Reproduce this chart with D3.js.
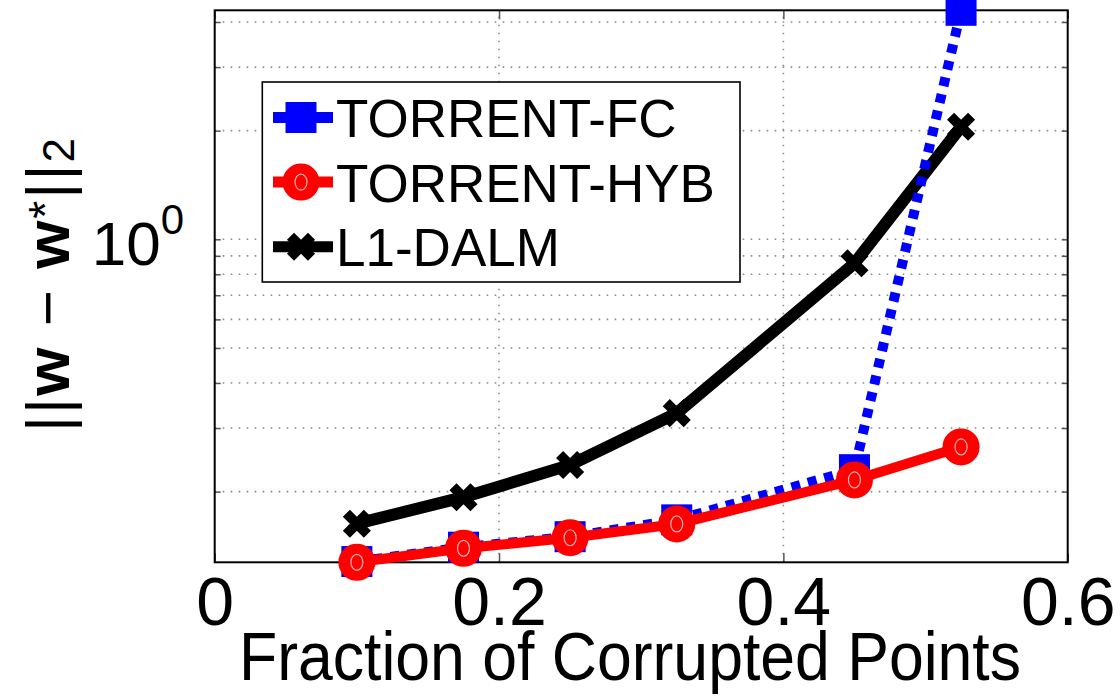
<!DOCTYPE html>
<html>
<head>
<meta charset="utf-8">
<script src="https://cdn.jsdelivr.net/npm/d3@7/dist/d3.min.js"></script>
<style>
  html, body { margin: 0; padding: 0; background: #fff; }
  svg { display: block; font-family: "Liberation Sans", Arial, Helvetica, sans-serif; }
</style>
</head>
<body>
<svg id="chart" width="1120" height="698"></svg>
<script>
// Fraction of corrupted points on the x axis
const fractions = [0.1, 0.175, 0.25, 0.325, 0.45, 0.525];
// Recovery error ||w - w*||_2 for each method
const torrentFC  = [0.128, 0.1403, 0.150, 0.167, 0.230, 4.31];
const torrentHYB = [0.1274, 0.1393, 0.149, 0.1627, 0.2155, 0.266];
const l1DALM     = [0.163, 0.193, 0.237, 0.330, 0.858, 2.05];

const seriesNames = ["TORRENT-FC", "TORRENT-HYB", "L1-DALM"];
const xTickVals = [0, 0.2, 0.4, 0.6];
const xTickLabels = ["0", "0.2", "0.4", "0.6"];
const yGridVals = [0.2, 0.3, 0.4, 0.5, 0.6, 0.7, 0.8, 0.9, 1, 2, 3, 4];
const yLabelVals = [1];

const svg = d3.select("#chart");
const M = { left: 214.7, right: 1067.7, top: 10.3, bottom: 562.3 };

const x = d3.scaleLinear().domain([0, 0.6]).range([M.left, M.right]);
const allVals = torrentFC.concat(torrentHYB, l1DALM);
const y = d3.scaleLog().domain(d3.extent(allVals)).range([M.bottom, M.top]);

// dotted grid
const grid = svg.append("g").attr("stroke", "#8c8c8c").attr("stroke-width", 1.6)
  .attr("stroke-dasharray", "1.6,6.4");
grid.selectAll("line.h").data(yGridVals).join("line")
  .attr("x1", M.left).attr("x2", M.right)
  .attr("y1", d => y(d)).attr("y2", d => y(d));
grid.selectAll("line.v").data([0.2, 0.4]).join("line")
  .attr("y1", M.bottom).attr("y2", M.top)
  .attr("x1", d => x(d)).attr("x2", d => x(d));

// axes with inward ticks on all four sides
const tickLen = 9;
svg.append("g").attr("transform", `translate(0,${M.bottom})`)
  .call(d3.axisBottom(x).tickValues(xTickVals).tickSize(-tickLen).tickPadding(14)
    .tickFormat((d, i) => xTickLabels[i]))
  .call(g => g.select(".domain").remove())
  .call(g => g.selectAll("line").attr("stroke", "#555").attr("stroke-width", 1.5))
  .call(g => g.selectAll("text").attr("font-size", 68).attr("fill", "#000")
    .attr("font-family", "Liberation Sans, Arial, sans-serif"));
svg.append("g").attr("transform", `translate(0,${M.top})`)
  .call(d3.axisTop(x).tickValues(xTickVals).tickSize(-tickLen).tickFormat(""))
  .call(g => g.select(".domain").remove())
  .call(g => g.selectAll("line").attr("stroke", "#555").attr("stroke-width", 1.5));
svg.append("g").attr("transform", `translate(${M.left},0)`)
  .call(d3.axisLeft(y).tickValues(yGridVals).tickSize(-6).tickFormat(""))
  .call(g => g.select(".domain").remove())
  .call(g => g.selectAll("line").attr("stroke", "#555").attr("stroke-width", 1.5));
svg.append("g").attr("transform", `translate(${M.right},0)`)
  .call(d3.axisRight(y).tickValues(yGridVals).tickSize(-6).tickFormat(""))
  .call(g => g.select(".domain").remove())
  .call(g => g.selectAll("line").attr("stroke", "#555").attr("stroke-width", 1.5));

// y tick label 10^0
const yl = svg.append("g").selectAll("text").data(yLabelVals).join("text")
  .attr("x", 184).attr("y", d => y(d) + 26)
  .attr("text-anchor", "end").attr("font-size", 62);
yl.append("tspan").text("10");
yl.append("tspan").attr("font-size", 42).attr("dy", -31).text("0");

// frame
svg.append("rect").attr("x", M.left).attr("y", M.top)
  .attr("width", M.right - M.left).attr("height", M.bottom - M.top)
  .attr("fill", "none").attr("stroke", "#000").attr("stroke-width", 2);

// axis titles
svg.append("text").attr("x", 630).attr("y", 680).attr("text-anchor", "middle")
  .attr("font-size", 68).attr("textLength", 782).attr("lengthAdjust", "spacingAndGlyphs")
  .text("Fraction of Corrupted Points");

const yt = svg.append("text").attr("transform", "translate(69,285) rotate(-90)")
  .attr("text-anchor", "middle").attr("font-size", 62)
  .attr("textLength", 294).attr("lengthAdjust", "spacing");
yt.append("tspan").text("||");
yt.append("tspan").attr("font-weight", "bold").text("w");
yt.append("tspan").text(" \u2212 ");
yt.append("tspan").attr("font-weight", "bold").text("w");
yt.append("tspan").attr("font-size", 46).attr("dy", -8).text("*");
yt.append("tspan").attr("dy", 8).text("||");
yt.append("tspan").attr("font-size", 44).attr("dy", 5).text("2");

// markers
function drawSquare(g, cx, cy) {
  g.append("rect").attr("x", cx - 15.5).attr("y", cy - 15.5)
    .attr("width", 31).attr("height", 31).attr("fill", "#0000ff");
}
function drawCircle(g, cx, cy) {
  g.append("circle").attr("cx", cx).attr("cy", cy).attr("r", 14.5)
    .attr("fill", "#ff0000").attr("stroke", "#ff0000").attr("stroke-width", 8);
  g.append("ellipse").attr("cx", cx).attr("cy", cy).attr("rx", 6).attr("ry", 8)
    .attr("fill", "none").attr("stroke", "#fff").attr("stroke-width", 1.2).attr("opacity", 0.7);
}
function drawCross(g, cx, cy) {
  const s = 10.5;
  g.append("path")
    .attr("d", `M${cx - s},${cy - s}L${cx + s},${cy + s}M${cx - s},${cy + s}L${cx + s},${cy - s}`)
    .attr("stroke", "#000").attr("stroke-width", 10).attr("fill", "none");
}

const series = [
  { name: seriesNames[2], vals: l1DALM, color: "#000", width: 12, dash: null, marker: drawCross },
  { name: seriesNames[0], vals: torrentFC, color: "#0000ff", width: 10, dash: "9,8", marker: drawSquare },
  { name: seriesNames[1], vals: torrentHYB, color: "#ff0000", width: 10, dash: null, marker: drawCircle }
];

const line = d3.line().x(d => x(d[0])).y(d => y(d[1]));
series.forEach(s => {
  const pts = fractions.map((f, i) => [f, s.vals[i]]);
  const g = svg.append("g");
  g.append("path").attr("d", line(pts)).attr("fill", "none")
    .attr("stroke", s.color).attr("stroke-width", s.width)
    .attr("stroke-dasharray", s.dash).attr("stroke-linejoin", "miter");
  pts.forEach(p => s.marker(g, x(p[0]), y(p[1])));
});

// legend
const legend = svg.append("g");
legend.append("rect").attr("x", 262.3).attr("y", 82).attr("width", 477.7).attr("height", 200)
  .attr("fill", "#fff").attr("stroke", "#000").attr("stroke-width", 1.6);
const legendOrder = [series[1], series[2], series[0]];
legendOrder.forEach((s, i) => {
  const cy = 117.5 + i * 64.6;
  const g = legend.append("g");
  g.append("line").attr("x1", 273).attr("x2", 333).attr("y1", cy).attr("y2", cy)
    .attr("stroke", s.color).attr("stroke-width", 11);
  s.marker(g, 301, cy);
  g.append("text").attr("x", 336).attr("y", cy + 19.5).attr("font-size", 53).text(s.name);
});
</script>
</body>
</html>
